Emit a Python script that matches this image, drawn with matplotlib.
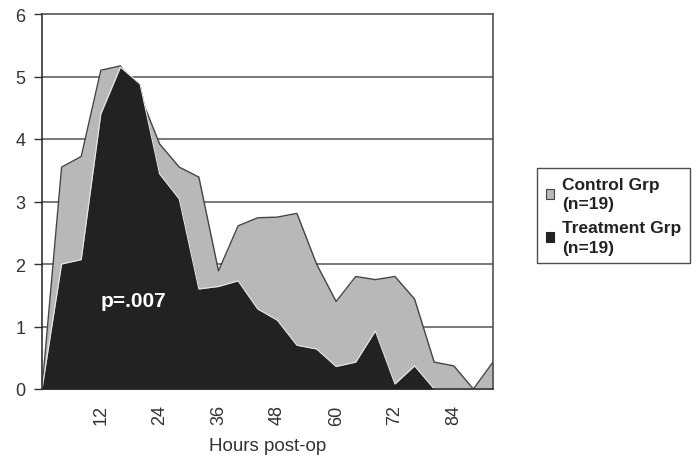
import matplotlib
matplotlib.use("Agg")
import matplotlib.pyplot as plt
from matplotlib.patches import Patch

hours = list(range(0, 96, 4))
control = [0, 3.55, 3.72, 5.10, 5.17, 4.70, 3.92, 3.55, 3.39, 1.89, 2.61, 2.74,
           2.75, 2.81, 2.00, 1.40, 1.80, 1.75, 1.80, 1.44, 0.43, 0.37, 0.00, 0.43]
treatment = [0, 2.00, 2.07, 4.40, 5.15, 4.88, 3.44, 3.04, 1.60, 1.64, 1.73, 1.28,
             1.10, 0.70, 0.64, 0.36, 0.43, 0.93, 0.08, 0.37, 0.00, 0.00, 0.00, 0.00]
xtick_vals = [12, 24, 36, 48, 60, 72, 84]
ytick_vals = [0, 1, 2, 3, 4, 5, 6]
labels = ["Control Grp\n(n=19)", "Treatment Grp\n(n=19)"]

plt.rcParams['font.family'] = ['Liberation Sans', 'DejaVu Sans']

fig = plt.figure(figsize=(6.99, 4.60), dpi=100)
ax = fig.add_axes([42/699, 70/460, (493-42)/699, (390-15)/460])

ctrl_col = '#b8b8b8'
trt_col = '#222222'

ax.fill_between(hours, 0, control, color=ctrl_col, zorder=2, linewidth=0)
ax.plot(hours, control, color='#444444', linewidth=1.0, zorder=2.1)
ax.fill_between(hours, 0, treatment, color=trt_col, zorder=3, linewidth=0)
ax.plot(hours, treatment, color='#e8e8e8', linewidth=0.8, zorder=3.1)

ax.set_xlim(0, 92)
ax.set_ylim(0, 6)
ax.set_yticks(ytick_vals)
ax.set_xticks(xtick_vals)
ax.set_xticklabels([str(v) for v in xtick_vals], rotation=90)
ax.tick_params(axis='x', length=0, pad=11, labelsize=13, labelcolor='#333333')
ax.tick_params(axis='y', length=6, width=1, pad=6, labelsize=13,
               labelcolor='#333333', color='#333333')

for yv in ytick_vals[1:-1]:
    ax.axhline(yv, color='#555555', linewidth=1.1, zorder=1)

for s in ['top', 'right']:
    ax.spines[s].set_color('#444444')
    ax.spines[s].set_linewidth(1.1)
for s in ['left', 'bottom']:
    ax.spines[s].set_color('#222222')
    ax.spines[s].set_linewidth(1.1)
for s in ax.spines.values():
    s.set_zorder(5)

ax.set_xlabel("Hours post-op", fontsize=13.5, color='#333333', labelpad=9)

ax.text(18.6, 1.41, "p=.007", color='white', fontsize=15, fontweight='bold',
        ha='center', va='center', zorder=6)

handles = [Patch(facecolor=ctrl_col, edgecolor='#444444', linewidth=0.8),
           Patch(facecolor=trt_col, edgecolor=trt_col, linewidth=0.8)]
leg = fig.legend(handles, labels, loc='upper left',
                 bbox_to_anchor=(537/699, 1 - 169/460),
                 frameon=True, fancybox=False, edgecolor='#222222',
                 prop={'weight': 'bold', 'size': 12.5},
                 handlelength=0.5, handleheight=0.5, handletextpad=0.45,
                 borderpad=0.5, labelspacing=0.55, borderaxespad=0)
leg.get_frame().set_linewidth(1.0)
for t in leg.get_texts():
    t.set_color('#222222')
    t.set_linespacing(1.35)

fig.savefig("out.png", dpi=100, facecolor='white')
